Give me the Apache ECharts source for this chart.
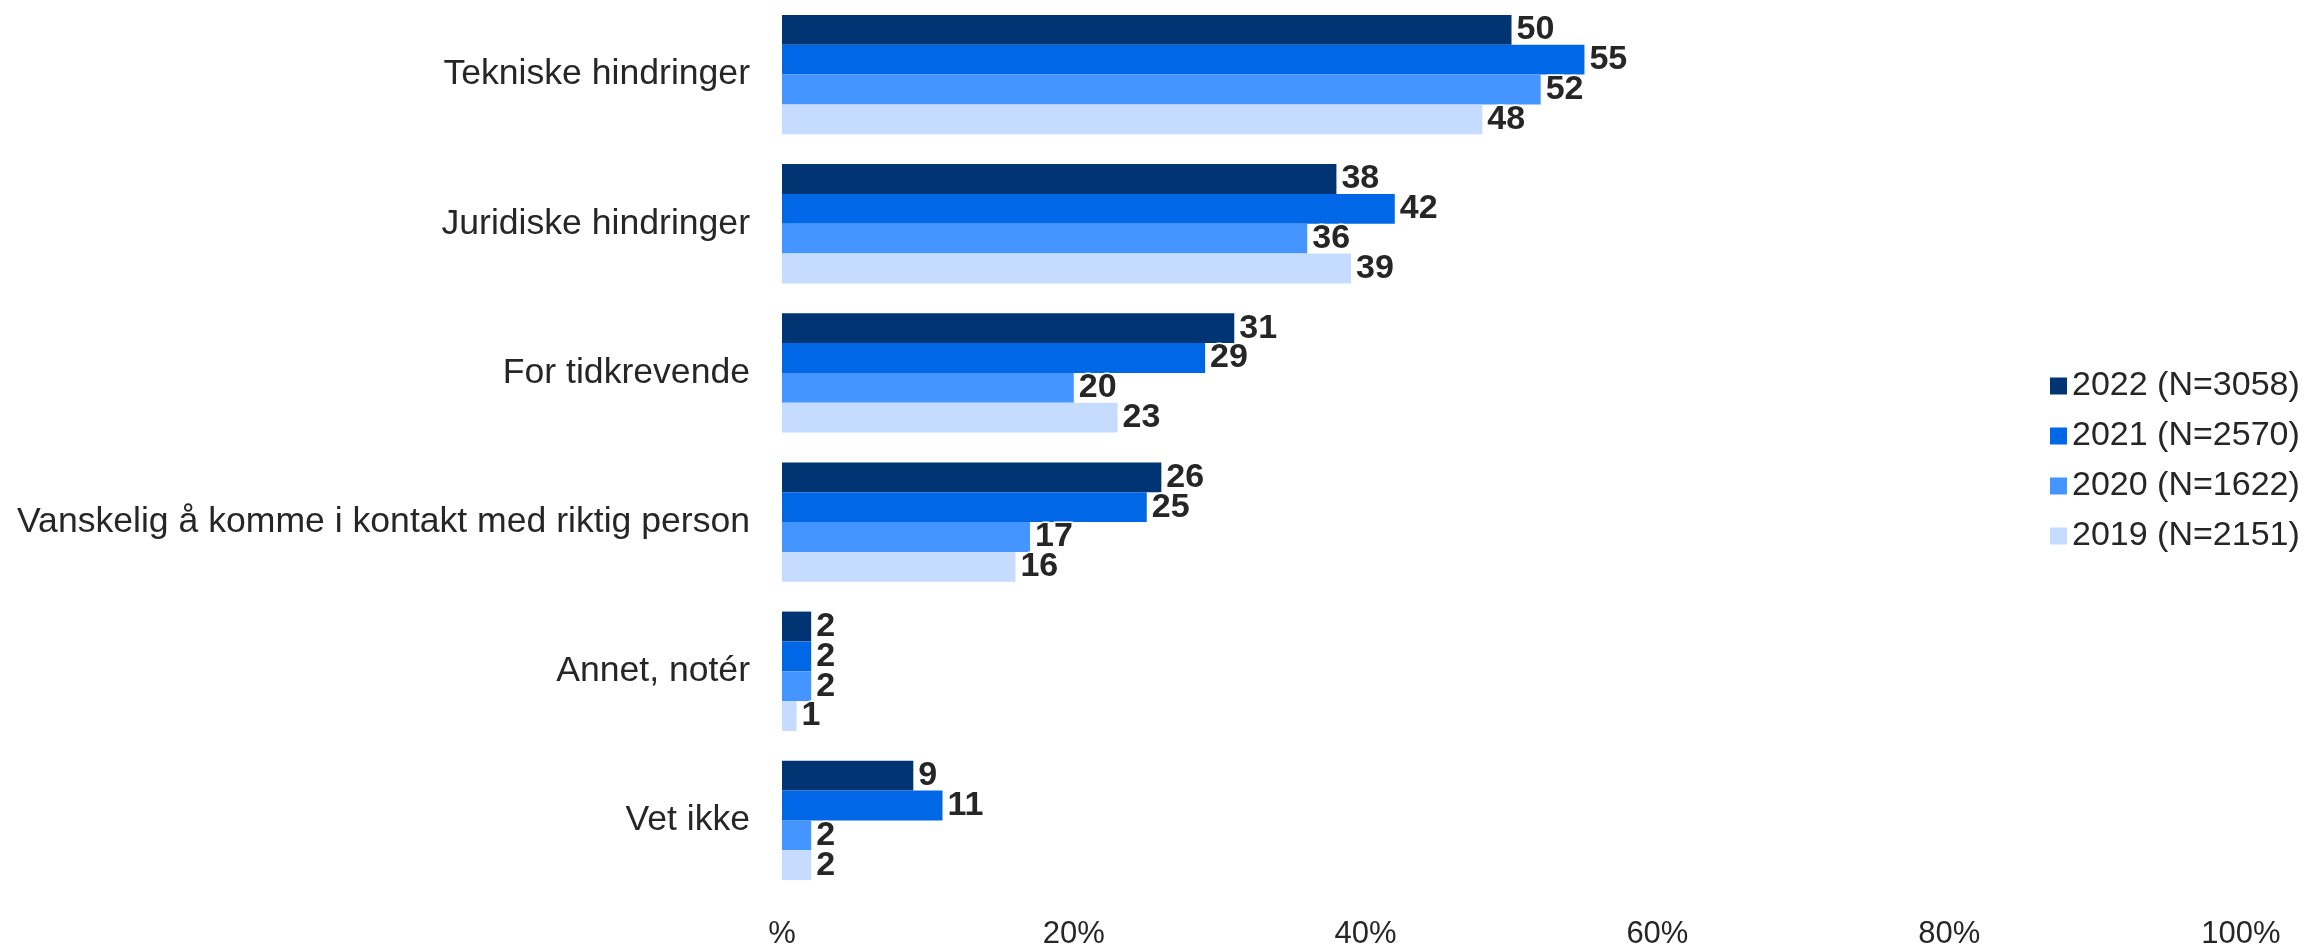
<!DOCTYPE html>
<html>
<head>
<meta charset="utf-8">
<script src="https://cdn.jsdelivr.net/npm/echarts@6/dist/echarts.min.js"></script>
<style>
html,body{margin:0;padding:0;background:#fff;}
#chart{width:2322px;height:951px;}
</style>
</head>
<body>
<div id="chart"></div>
<script>
const categories = ["Tekniske hindringer","Juridiske hindringer","For tidkrevende","Vanskelig å komme i kontakt med riktig person","Annet, notér","Vet ikke"];
const seriesNames = ["2022 (N=3058)","2021 (N=2570)","2020 (N=1622)","2019 (N=2151)"];
const values2022 = [50,38,31,26,2,9];
const values2021 = [55,42,29,25,2,11];
const values2020 = [52,36,20,17,2,2];
const values2019 = [48,39,23,16,1,2];
const tickLabels = ["%","20%","40%","60%","80%","100%"];
const colors = ["#003472","#0068E6","#4495FF","#C5DBFF"];

const allValues = [values2022, values2021, values2020, values2019];
const FONT = "'Liberation Sans', Arial, sans-serif";

const chart = echarts.init(document.getElementById('chart'));
chart.setOption({
  animation:false,
  textStyle:{fontFamily:FONT},
  grid:{left:782,right:81,top:0,bottom:56},
  legend:{
    orient:'vertical',
    left:2045, top:364,
    itemWidth:17,itemHeight:17,itemGap:16,
    icon:'rect',
    textStyle:{fontSize:34,color:'#262626',fontFamily:FONT},
    data:seriesNames
  },
  xAxis:{
    type:'value',min:0,max:100,interval:20,
    axisLine:{show:false},axisTick:{show:false},splitLine:{show:false},
    axisLabel:{
      fontSize:31,color:'#262626',margin:24,fontFamily:FONT,
      formatter:function(v){return tickLabels[Math.round(v/20)];}
    }
  },
  yAxis:{
    type:'category',inverse:true,data:categories,
    axisLine:{show:false},axisTick:{show:false},splitLine:{show:false},
    axisLabel:{fontSize:35.6,color:'#262626',margin:32,fontFamily:FONT}
  },
  series: seriesNames.map(function(name,i){
    return {
      name:name,type:'bar',data:allValues[i],
      barGap:'0%',barCategoryGap:'20%',
      itemStyle:{color:colors[i]},
      label:{show:true,position:'right',distance:5,fontSize:34,fontWeight:'bold',color:'#262626',
        fontFamily:FONT,textBorderColor:'#fff',textBorderWidth:3}
    };
  })
});
</script>
</body>
</html>
